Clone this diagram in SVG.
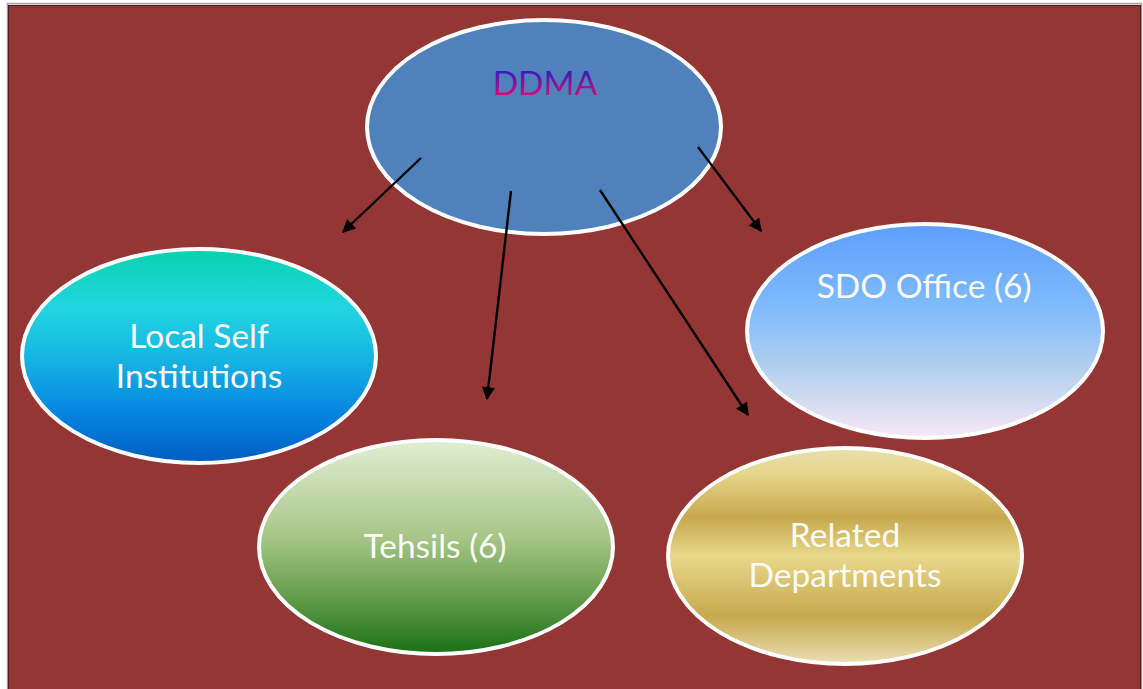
<svg xmlns="http://www.w3.org/2000/svg" width="1143" height="689" viewBox="0 0 1143 689">
<defs>
<style>
.node{stroke:#ffffff;stroke-width:4}
.lbl{font-family:Lato,"Liberation Sans",sans-serif;font-size:33.5px;fill:#fbfbf6;text-anchor:middle}
.conn{stroke:#000;stroke-width:2.4;fill:none;marker-end:url(#ah)}
</style>
<marker id="ah" viewBox="0 0 10 10" refX="9" refY="5" markerWidth="6.5" markerHeight="5.5" orient="auto" markerUnits="strokeWidth">
<path d="M0,0 L10,5 L0,10 z" fill="#000"/>
</marker>
<linearGradient id="gLocal" x1="0" y1="0" x2="0" y2="1">
<stop offset="0" stop-color="#08d2ad"/>
<stop offset="0.27" stop-color="#20d6e0"/>
<stop offset="0.5" stop-color="#18b6e2"/>
<stop offset="0.75" stop-color="#0688e2"/>
<stop offset="1" stop-color="#005cc0"/>
</linearGradient>
<linearGradient id="gTeh" x1="0" y1="0" x2="0" y2="1">
<stop offset="0" stop-color="#e2eed4"/>
<stop offset="0.45" stop-color="#a8c688"/>
<stop offset="0.75" stop-color="#5f9a48"/>
<stop offset="1" stop-color="#187014"/>
</linearGradient>
<linearGradient id="gRel" x1="0" y1="0" x2="0" y2="1">
<stop offset="0" stop-color="#e9dfb0"/>
<stop offset="0.12" stop-color="#e6d68a"/>
<stop offset="0.32" stop-color="#c6a84e"/>
<stop offset="0.5" stop-color="#e8d88a"/>
<stop offset="0.78" stop-color="#c6a84e"/>
<stop offset="1" stop-color="#ebe0b4"/>
</linearGradient>
<linearGradient id="gSdo" x1="0" y1="0" x2="0" y2="1">
<stop offset="0" stop-color="#5e9eff"/>
<stop offset="0.4" stop-color="#80bcfc"/>
<stop offset="0.68" stop-color="#b4d0ee"/>
<stop offset="1" stop-color="#f8e8f6"/>
</linearGradient>
<linearGradient id="gDdma" gradientUnits="userSpaceOnUse" x1="0" y1="72" x2="0" y2="96">
<stop offset="0" stop-color="#3a1cb8"/>
<stop offset="1" stop-color="#d80c78"/>
</linearGradient>
</defs>
<rect x="0" y="0" width="1143" height="689" fill="#ffffff"/>
<rect x="7.5" y="3.5" width="1134" height="700" fill="none" stroke="#a8a8a8" stroke-width="1.5"/>
<rect x="8.5" y="5.5" width="1132" height="700" fill="#943634" stroke="#4a2020" stroke-width="1.2"/>

<g id="ddma">
<ellipse class="node" cx="544" cy="127" rx="177" ry="107" fill="#4f81bd"/>
<text class="lbl" x="545" y="95" style="fill:url(#gDdma)">DDMA</text>
</g>

<g id="local-self">
<ellipse class="node" cx="199" cy="356" rx="177" ry="107" fill="url(#gLocal)"/>
<text class="lbl" x="199" y="348">Local Self</text>
<text class="lbl" x="199" y="388">Institutions</text>
</g>

<g id="tehsils">
<ellipse class="node" cx="436" cy="547" rx="177" ry="107" fill="url(#gTeh)"/>
<text class="lbl" x="435" y="558">Tehsils (6)</text>
</g>

<g id="related">
<ellipse class="node" cx="845" cy="556" rx="177" ry="108" fill="url(#gRel)"/>
<text class="lbl" x="845" y="547">Related</text>
<text class="lbl" x="845" y="587">Departments</text>
</g>

<g id="sdo">
<ellipse class="node" cx="925" cy="331" rx="178" ry="107" fill="url(#gSdo)"/>
<text class="lbl" x="924" y="298">SDO Office (6)</text>
</g>

<g id="connectors">
<line class="conn" x1="421" y1="158" x2="343" y2="232"/>
<line class="conn" x1="511" y1="191" x2="487" y2="399"/>
<line class="conn" x1="600" y1="190" x2="748" y2="415"/>
<line class="conn" x1="698" y1="147" x2="761" y2="231"/>
</g>
</svg>
